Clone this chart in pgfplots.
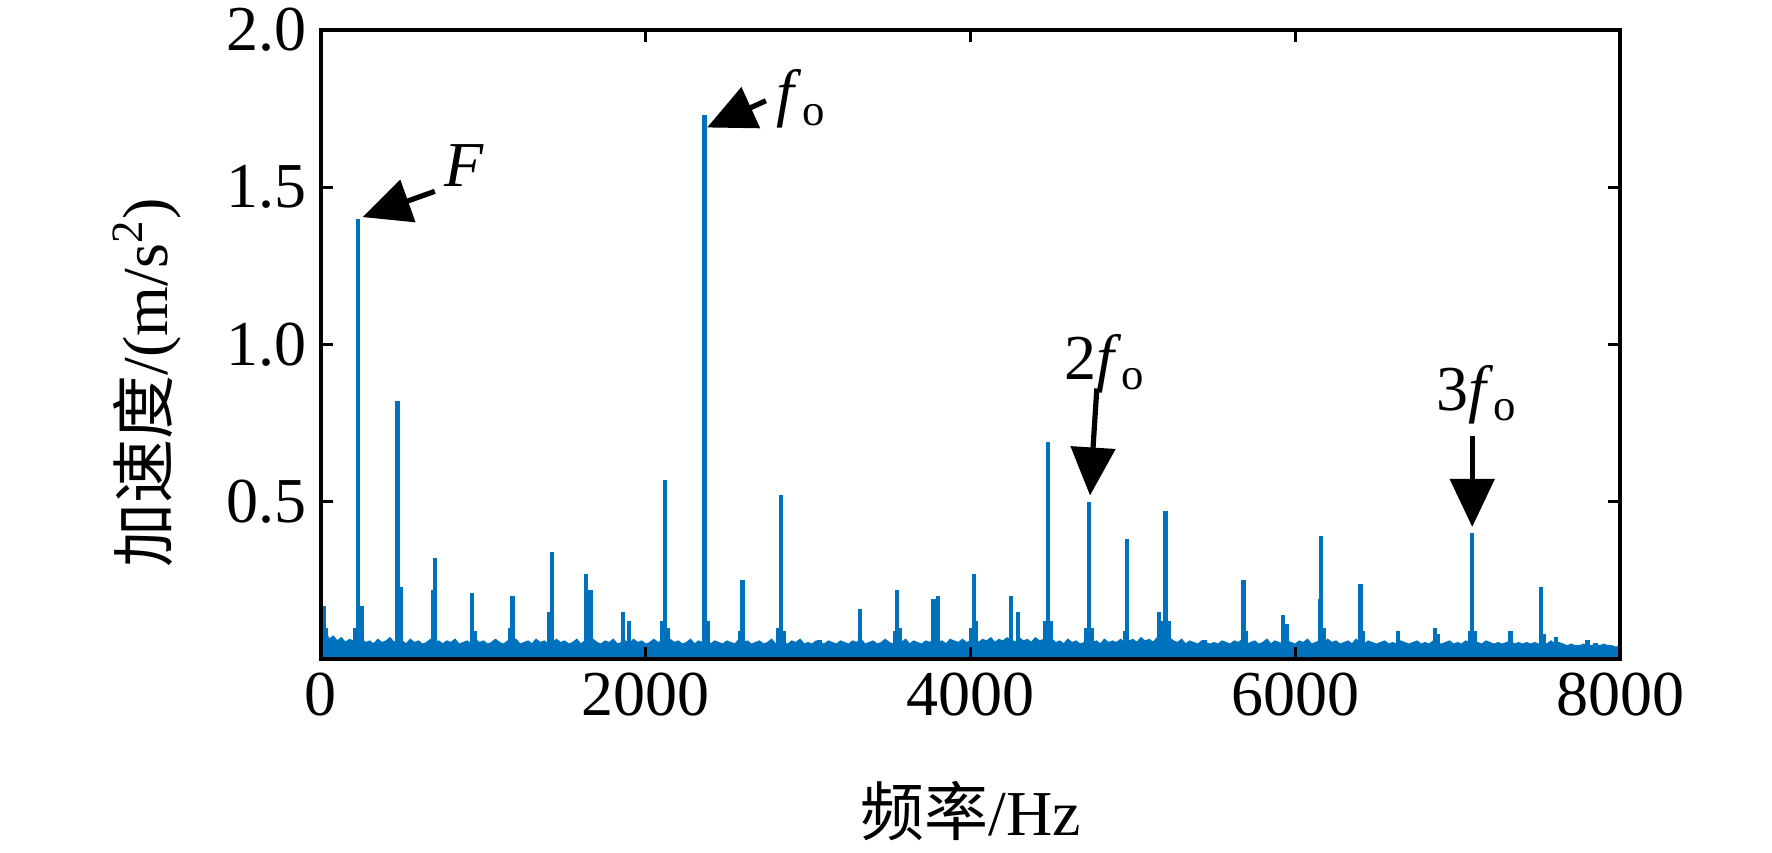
\documentclass[border=0pt]{standalone}
\usepackage{pgfplots}
\pgfplotsset{compat=1.18}
\usepackage{pgfplotstable}
\usepackage{fontspec}
\setmainfont{Liberation Serif}
\newfontfamily\cjk{Noto Sans CJK SC}
\usetikzlibrary{arrows.meta}
\definecolor{mblue}{RGB}{0,114,189}

\pgfplotstableread{
x y
0 0.065
25 0.085
50 0.06
75 0.07
100 0.055
125 0.065
150 0.05
175 0.06
200 0.055
225 0.065
250 0.06
275 0.05
300 0.055
325 0.045
350 0.06
375 0.05
400 0.055
425 0.065
450 0.05
475 0.06
500 0.055
525 0.045
550 0.06
575 0.05
600 0.055
625 0.045
650 0.05
675 0.06
700 0.05
725 0.055
750 0.045
775 0.055
800 0.05
825 0.06
850 0.045
875 0.05
900 0.055
925 0.045
950 0.06
975 0.05
1000 0.055
1025 0.045
1050 0.05
1075 0.06
1100 0.05
1125 0.045
1150 0.055
1175 0.05
1200 0.06
1225 0.045
1250 0.05
1275 0.055
1300 0.045
1325 0.06
1350 0.05
1375 0.055
1400 0.045
1425 0.05
1450 0.06
1475 0.05
1500 0.055
1525 0.045
1550 0.05
1575 0.06
1600 0.045
1625 0.055
1650 0.05
1675 0.06
1700 0.05
1725 0.045
1750 0.055
1775 0.05
1800 0.06
1825 0.045
1850 0.05
1875 0.055
1900 0.045
1925 0.06
1950 0.05
1975 0.055
2000 0.045
2025 0.05
2050 0.06
2075 0.05
2100 0.055
2125 0.045
2150 0.06
2175 0.05
2200 0.055
2225 0.045
2250 0.05
2275 0.06
2300 0.045
2325 0.055
2350 0.05
2375 0.06
2400 0.045
2425 0.055
2450 0.05
2475 0.045
2500 0.055
2525 0.05
2550 0.045
2575 0.06
2600 0.05
2625 0.055
2650 0.045
2675 0.05
2700 0.055
2725 0.045
2750 0.05
2775 0.06
2800 0.045
2825 0.055
2850 0.05
2875 0.045
2900 0.055
2925 0.05
2950 0.06
2975 0.045
3000 0.05
3025 0.045
3050 0.055
3075 0.05
3100 0.045
3125 0.055
3150 0.05
3175 0.045
3200 0.055
3225 0.05
3250 0.045
3275 0.055
3300 0.05
3325 0.06
3350 0.045
3375 0.05
3400 0.055
3425 0.045
3450 0.05
3475 0.06
3500 0.05
3525 0.045
3550 0.055
3575 0.05
3600 0.06
3625 0.045
3650 0.055
3675 0.05
3700 0.045
3725 0.055
3750 0.05
3775 0.06
3800 0.05
3825 0.055
3850 0.045
3875 0.06
3900 0.055
3925 0.05
3950 0.06
3975 0.05
4000 0.055
4025 0.065
4050 0.05
4075 0.06
4100 0.055
4125 0.065
4150 0.05
4175 0.06
4200 0.055
4225 0.065
4250 0.06
4275 0.05
4300 0.065
4325 0.055
4350 0.06
4375 0.05
4400 0.065
4425 0.055
4450 0.06
4475 0.05
4500 0.06
4525 0.05
4550 0.055
4575 0.045
4600 0.06
4625 0.05
4650 0.055
4675 0.045
4700 0.05
4725 0.06
4750 0.05
4775 0.055
4800 0.045
4825 0.06
4850 0.05
4875 0.055
4900 0.05
4925 0.06
4950 0.045
4975 0.055
5000 0.06
5025 0.05
5050 0.065
5075 0.055
5100 0.06
5125 0.05
5150 0.065
5175 0.055
5200 0.06
5225 0.065
5250 0.055
5275 0.05
5300 0.06
5325 0.045
5350 0.055
5375 0.05
5400 0.045
5425 0.055
5450 0.05
5475 0.045
5500 0.05
5525 0.045
5550 0.055
5575 0.05
5600 0.045
5625 0.055
5650 0.05
5675 0.06
5700 0.045
5725 0.05
5750 0.055
5775 0.045
5800 0.05
5825 0.06
5850 0.045
5875 0.055
5900 0.05
5925 0.045
5950 0.055
5975 0.05
6000 0.045
6025 0.055
6050 0.05
6075 0.06
6100 0.045
6125 0.05
6150 0.055
6175 0.045
6200 0.06
6225 0.05
6250 0.055
6275 0.045
6300 0.05
6325 0.055
6350 0.045
6375 0.06
6400 0.05
6425 0.045
6450 0.055
6475 0.05
6500 0.045
6525 0.05
6550 0.055
6575 0.045
6600 0.05
6625 0.045
6650 0.055
6675 0.05
6700 0.045
6725 0.05
6750 0.055
6775 0.045
6800 0.05
6825 0.045
6850 0.055
6875 0.05
6900 0.045
6925 0.05
6950 0.055
6975 0.045
7000 0.05
7025 0.045
7050 0.055
7075 0.05
7100 0.045
7125 0.05
7150 0.045
7175 0.055
7200 0.05
7225 0.045
7250 0.05
7275 0.045
7300 0.05
7325 0.055
7350 0.045
7375 0.05
7400 0.045
7425 0.05
7450 0.045
7475 0.05
7500 0.045
7525 0.05
7550 0.045
7575 0.055
7600 0.045
7625 0.05
7650 0.045
7675 0.04
7700 0.045
7725 0.04
7750 0.04
7775 0.045
7800 0.04
7825 0.04
7850 0.045
7875 0.04
7900 0.045
7925 0.04
7950 0.04
7975 0.035
8000 0.04
}\noise

\pgfplotstableread{
x y
15 0.17
30 0.10
210 0.10
229 1.40
250 0.17
472 0.82
490 0.23
688 0.22
701 0.32
930 0.21
950 0.09
1165 0.10
1180 0.20
1408 0.15
1424 0.34
1632 0.27
1660 0.22
1861 0.15
1896 0.12
2100 0.12
2118 0.57
2135 0.10
2361 1.73
2380 0.12
2580 0.09
2597 0.25
2815 0.10
2833 0.52
2850 0.09
3070 0.06
3319 0.16
3535 0.09
3549 0.22
3565 0.10
3771 0.19
3799 0.20
4005 0.10
4021 0.27
4035 0.12
4250 0.20
4292 0.15
4462 0.12
4479 0.69
4495 0.12
4712 0.10
4729 0.50
4745 0.10
4950 0.09
4965 0.38
5160 0.15
5185 0.12
5201 0.47
5220 0.12
5440 0.06
5681 0.25
5695 0.09
5924 0.14
5945 0.11
6153 0.19
6160 0.39
6175 0.10
6403 0.24
6418 0.09
6632 0.09
6861 0.10
6880 0.08
7075 0.09
7090 0.40
7105 0.09
7326 0.09
7514 0.23
7530 0.08
7604 0.07
7800 0.06
7850 0.05
}\peaks

\begin{document}
\begin{tikzpicture}
\path[use as bounding box] (-80.25pt,-48.5pt) rectangle (362.75pt,164.75pt);
\begin{axis}[
  at={(0,0)}, anchor=south west,
  scale only axis, width=324.75pt, height=157.25pt,
  xmin=0, xmax=8000, ymin=0, ymax=2,
  xtick={0,2000,4000,6000,8000},
  xticklabels={0,2000,4000,6000,8000},
  ytick={0.5,1,1.5,2},
  yticklabels={0.5,1.0,1.5,2.0},
  tick align=inside, major tick length=3pt,
  axis line style={line width=0.85pt},
  every tick/.style={line width=0.85pt, black},
  axis on top,
  ticklabel style={font=\fontsize{16}{19}\selectfont},
  label style={font=\fontsize{16}{19}\selectfont},
  xlabel={{\cjk 频率}/Hz},
  ylabel={{\cjk 加速度}/(m/s\textsuperscript{2})},
  xlabel style={at={(axis description cs:0.5,0)}, anchor=center, yshift=-38pt},
  ylabel style={at={(axis description cs:0,0.5)}, anchor=center, yshift=43.6pt, xshift=-9.5pt},
  clip=true,
]
\addplot[mblue, fill=mblue, line width=0.6pt] table {\noise} \closedcycle;
\addplot[mblue, ycomb, line width=1.1pt] table {\peaks};

\draw[line width=1.3pt, -{Triangle[length=12pt,width=11pt]}] (axis cs:701,1.487) -- (axis cs:257,1.405);
\node[font=\fontsize{16}{19}\selectfont] at (axis cs:880,1.57) {\textit{F}};
\draw[line width=1.3pt, -{Triangle[length=12pt,width=11pt]}] (axis cs:2740,1.775) -- (axis cs:2378,1.69);
\node[font=\fontsize{16}{19}\selectfont] at (axis cs:2960,1.78) {\textit{f}\textsubscript{o}};
\draw[line width=1.3pt, -{Triangle[length=12pt,width=11pt]}] (axis cs:4778,0.86) -- (axis cs:4736,0.52);
\node[font=\fontsize{16}{19}\selectfont] at (axis cs:4830,0.94) {2\textit{f}\textsubscript{o}};
\draw[line width=1.3pt, -{Triangle[length=12pt,width=11pt]}] (axis cs:7090,0.71) -- (axis cs:7090,0.42);
\node[font=\fontsize{16}{19}\selectfont] at (axis cs:7118,0.84) {3\textit{f}\textsubscript{o}};
\end{axis}
\end{tikzpicture}
\end{document}
